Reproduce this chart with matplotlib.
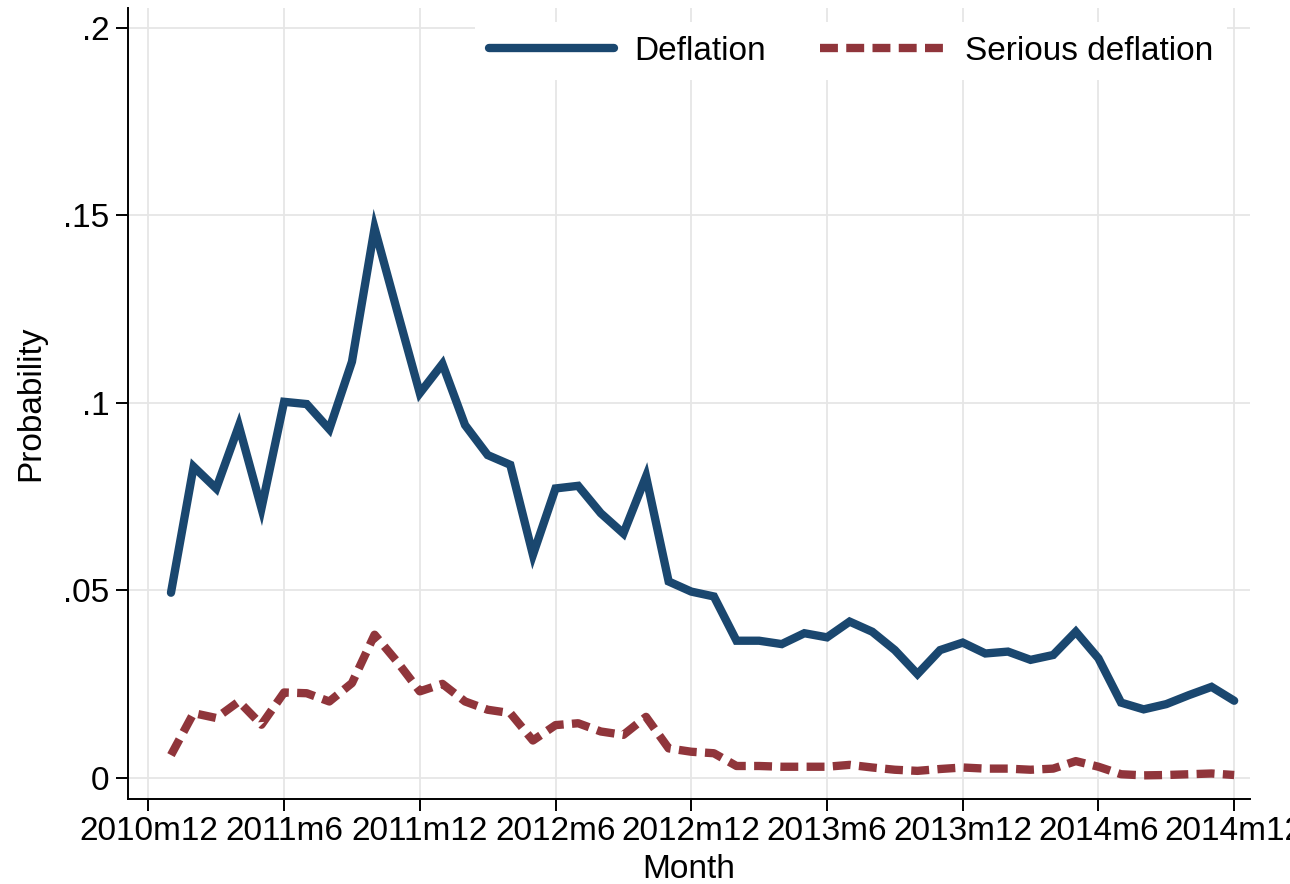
import matplotlib
matplotlib.use("Agg")
import matplotlib.pyplot as plt

# ---- data ----
months = [f"{y}m{m}" for y in range(2011, 2015) for m in range(1, 13)]

deflation = [
    0.0494, 0.0830, 0.0772, 0.0939, 0.0719, 0.1003, 0.0997, 0.0930, 0.1110, 0.1466, 0.1245, 0.1026,
    0.1104, 0.0941, 0.0861, 0.0835, 0.0595, 0.0772, 0.0779, 0.0706, 0.0652, 0.0804, 0.0524, 0.0497,
    0.0484, 0.0366, 0.0366, 0.0357, 0.0386, 0.0375, 0.0417, 0.0390, 0.0341, 0.0277, 0.0341, 0.0361,
    0.0332, 0.0337, 0.0315, 0.0328, 0.0390, 0.0319, 0.0201, 0.0183, 0.0197, 0.0221, 0.0243, 0.0206,
]
serious_deflation = [
    0.0061, 0.0173, 0.0160, 0.0204, 0.0142, 0.0228, 0.0226, 0.0204, 0.0253, 0.0382, 0.0310, 0.0231,
    0.0251, 0.0204, 0.0182, 0.0173, 0.0100, 0.0141, 0.0146, 0.0124, 0.0115, 0.0163, 0.0079, 0.0070,
    0.0066, 0.0032, 0.0032, 0.0030, 0.0030, 0.0030, 0.0035, 0.0028, 0.0022, 0.0019, 0.0024, 0.0028,
    0.0025, 0.0025, 0.0022, 0.0025, 0.0045, 0.0030, 0.0010, 0.0007, 0.0008, 0.0010, 0.0012, 0.0008,
]
x_tick_labels = ["2010m12", "2011m6", "2011m12", "2012m6", "2012m12",
                 "2013m6", "2013m12", "2014m6", "2014m12"]
y_ticks = [0, 0.05, 0.1, 0.15, 0.2]
y_tick_labels = ["0", ".05", ".1", ".15", ".2"]


def month_index(label):
    y, m = label.split("m")
    return (int(y) - 2010) * 12 + int(m) - 12


x = [month_index(m) for m in months]
xt = [month_index(m) for m in x_tick_labels]

# ---- style ----
plt.rcParams["font.family"] = ["Liberation Sans", "DejaVu Sans"]
navy = "#1a476f"
maroon = "#90353b"
FS = 24

fig = plt.figure(figsize=(12.9, 8.84), dpi=100)
ax = fig.add_axes([128 / 1290, 1 - 799 / 884, (1250 - 128) / 1290, (799 - 8) / 884])

ax.plot(x, deflation, color=navy, lw=6, solid_joinstyle="miter",
        solid_capstyle="round", label="Deflation", zorder=3)
ax.plot(x, serious_deflation, color=maroon, lw=6, dashes=(2.15, 1.0),
        dash_capstyle="butt", label="Serious deflation", zorder=3)

ax.set_xlim(-0.9, 48.7)
ax.set_ylim(-0.0056, 0.2053)
ax.set_xticks(xt)
ax.set_xticklabels(x_tick_labels)
ax.set_yticks(y_ticks)
ax.set_yticklabels(y_tick_labels)

ax.grid(True, color="#e6e6e6", lw=1.3, zorder=0)
ax.set_axisbelow(True)
for s in ["top", "right"]:
    ax.spines[s].set_visible(False)
for s in ["left", "bottom"]:
    ax.spines[s].set_linewidth(1.4)
    ax.spines[s].set_color("black")

ax.tick_params(axis="both", direction="out", length=8.5, width=1.4,
               labelsize=FS, colors="black")
ax.tick_params(axis="y", pad=5)
ax.tick_params(axis="x", pad=4)

ax.set_xlabel("Month", fontsize=FS, labelpad=5)
ax.set_ylabel("Probability", fontsize=FS, labelpad=12)

leg = ax.legend(loc="upper right", ncol=2, fontsize=FS, frameon=True,
                facecolor="white", edgecolor="none", framealpha=1,
                fancybox=False, handlelength=3.75, handletextpad=0.6,
                columnspacing=1.65, borderaxespad=0, borderpad=0.4,
                bbox_to_anchor=(0.9795, 0.982))

fig.savefig("out.png", dpi=100)
